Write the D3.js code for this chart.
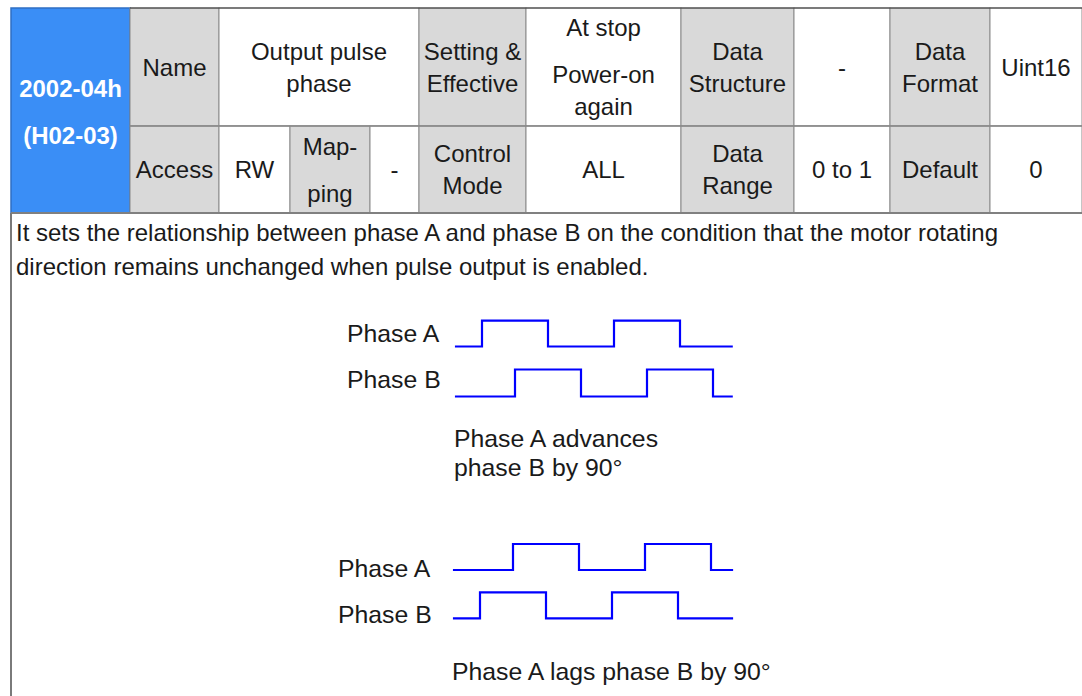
<!DOCTYPE html>
<html>
<head>
<meta charset="utf-8">
<script src="https://cdn.jsdelivr.net/npm/d3@7/dist/d3.min.js"></script>
<style>
  html, body { margin: 0; padding: 0; background: #fff; }
  svg { display: block; }
  text { font-family: "Liberation Sans", Arial, sans-serif; }
</style>
</head>
<body>
<svg id="chart" width="1082" height="696"></svg>
<script>
// ---------------- DATA ----------------
const paramId = [["2002-04h"], ["(H02-03)"]];
// row 1 cells: paragraphs of lines
const row1Texts = [
  [["Name"]],
  [["Output pulse", "phase"]],
  [["Setting &", "Effective"]],
  [["At stop"], ["Power-on", "again"]],
  [["Data", "Structure"]],
  [["-"]],
  [["Data", "Format"]],
  [["Uint16"]]
];
const row1IsLabel = [true, false, true, false, true, false, true, false];
const row2Texts = [
  [["Access"]],
  [["RW"]],
  [["Map-"], ["ping"]],
  [["-"]],
  [["Control", "Mode"]],
  [["ALL"]],
  [["Data", "Range"]],
  [["0 to 1"]],
  [["Default"]],
  [["0"]]
];
const row2IsLabel = [true, false, true, false, true, false, true, false, true, false];
const descriptionLines = [
  "It sets the relationship between phase A and phase B on the condition that the motor rotating",
  "direction remains unchanged when pulse output is enabled."
];
const waveLabels = ["Phase A", "Phase B"];
// waveforms: [time in quarter-periods, level]
const advPhaseA = [[0.18, 0], [1, 1], [3, 0], [5, 1], [7, 0], [8.6, 0]];
const advPhaseB = [[0.18, 0], [2, 1], [4, 0], [6, 1], [8, 0], [8.6, 0]];
const lagPhaseA = [[0.18, 0], [2, 1], [4, 0], [6, 1], [8, 0], [8.67, 0]];
const lagPhaseB = [[0.18, 0], [1, 1], [3, 0], [5, 1], [7, 0], [8.67, 0]];
const advCaption = ["Phase A advances", "phase B by 90°"];
const lagCaption = ["Phase A lags phase B by 90°"];

// ---------------- LAYOUT ----------------
const colX = [11, 130, 219, 290, 370, 419, 526, 681, 794, 890, 990, 1082];
const row1Span = [[1, 2], [2, 5], [5, 6], [6, 7], [7, 8], [8, 9], [9, 10], [10, 11]];
const row2Span = [[1, 2], [2, 3], [3, 4], [4, 5], [5, 6], [6, 7], [7, 8], [8, 9], [9, 10], [10, 11]];
const yTop = 8, yMid = 126, yBot = 213;
const FS = 24, LINE = 32, PARA = 47;
const FS_DIAG = 24.8;
const textColor = "#1a1a1a";
const labelFill = "#d9d9d9";
const blue = "#3a8ef6";
const gridColor = "#8a8a8a";

const svg = d3.select("#chart");

function blockHeights(paras) {
  let h = 0;
  paras.forEach((p, i) => {
    if (i > 0) h += PARA;
    h += (p.length - 1) * LINE;
  });
  return h;
}
function drawCellText(g, paras, cx, cy, opts = {}) {
  const total = blockHeights(paras);
  const size = opts.size || FS;
  let y = cy - total / 2;
  const t = g.append("text")
    .attr("text-anchor", "middle")
    .attr("font-size", size)
    .attr("font-weight", opts.weight || "normal")
    .attr("fill", opts.fill || textColor);
  paras.forEach((p, i) => {
    if (i > 0) y += PARA;
    p.forEach((line, j) => {
      if (j > 0) y += LINE;
      t.append("tspan").attr("x", cx).attr("y", y + 0.358 * size).text(line);
    });
  });
}

const table = svg.append("g");
// blue id cell
table.append("rect")
  .attr("x", colX[0]).attr("y", yTop)
  .attr("width", colX[1] - colX[0]).attr("height", yBot - yTop)
  .attr("fill", blue).attr("stroke", "#2f6fc4").attr("stroke-width", 1.5);
drawCellText(table, paramId, (colX[0] + colX[1]) / 2, (yTop + yBot) / 2 + 1,
  { weight: "bold", fill: "#ffffff", size: 24 });

function drawRow(texts, spans, isLabel, y0, y1) {
  texts.forEach((paras, i) => {
    const [a, b] = spans[i];
    table.append("rect")
      .attr("x", colX[a]).attr("y", y0)
      .attr("width", colX[b] - colX[a]).attr("height", y1 - y0)
      .attr("fill", isLabel[i] ? labelFill : "#ffffff")
      .attr("stroke", gridColor).attr("stroke-width", 1);
    drawCellText(table, paras, (colX[a] + colX[b]) / 2, (y0 + y1) / 2);
  });
}
drawRow(row1Texts, row1Span, row1IsLabel, yTop, yMid);
drawRow(row2Texts, row2Span, row2IsLabel, yMid, yBot);

table.append("line").attr("x1", colX[1]).attr("x2", 1082).attr("y1", yTop).attr("y2", yTop)
  .attr("stroke", "#333").attr("stroke-width", 1.2);
table.append("line").attr("x1", colX[1]).attr("x2", 1082).attr("y1", yMid).attr("y2", yMid)
  .attr("stroke", gridColor).attr("stroke-width", 1.5);
table.append("line").attr("x1", colX[0]).attr("x2", 1082).attr("y1", yBot).attr("y2", yBot)
  .attr("stroke", "#808080").attr("stroke-width", 2);

// description box left border
svg.append("line").attr("x1", colX[0]).attr("x2", colX[0]).attr("y1", yBot).attr("y2", 696)
  .attr("stroke", "#7a7a7a").attr("stroke-width", 2);

// description
const desc = svg.append("text").attr("font-size", FS).attr("fill", textColor)
  .attr("textLength", null);
descriptionLines.forEach((l, i) => {
  desc.append("tspan").attr("x", 16).attr("y", 241 + i * 34).text(l);
});

// waveforms
const line = d3.line().curve(d3.curveStepAfter);
function drawWave(data, xs, yLow, yHigh) {
  const ys = d3.scaleLinear().domain([0, 1]).range([yLow, yHigh]);
  svg.append("path")
    .attr("d", line.x(d => xs(d[0])).y(d => ys(d[1]))(data))
    .attr("fill", "none").attr("stroke", "#0000ff").attr("stroke-width", 2.2);
}
function drawLabel(txt, x, y) {
  svg.append("text").attr("x", x).attr("y", y).attr("font-size", FS_DIAG)
    .attr("fill", textColor).text(txt);
}

const xAdv = d3.scaleLinear().domain([0, 1]).range([449, 482]);
drawLabel(waveLabels[0], 347, 342);
drawLabel(waveLabels[1], 347, 388);
drawWave(advPhaseA, xAdv, 346.5, 320.7);
drawWave(advPhaseB, xAdv, 396.5, 369.5);
advCaption.forEach((c, i) => drawLabel(c, 454, 447 + i * 29));

const xLag = d3.scaleLinear().domain([0, 1]).range([447, 480]);
drawLabel(waveLabels[0], 338, 577);
drawLabel(waveLabels[1], 338, 623);
drawWave(lagPhaseA, xLag, 570, 544);
drawWave(lagPhaseB, xLag, 618.3, 592.3);
lagCaption.forEach((c, i) => drawLabel(c, 452, 680 + i * 29));
</script>
</body>
</html>
